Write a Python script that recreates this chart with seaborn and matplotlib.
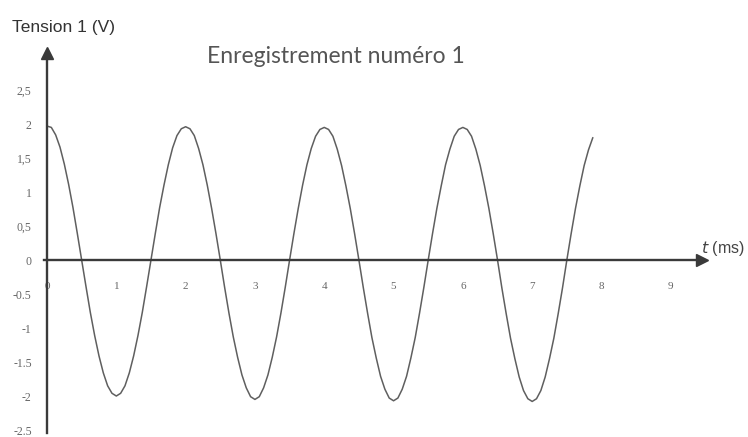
import numpy as np
import seaborn as sns
import matplotlib.pyplot as plt

# values, one sample every 0.0625 ms (period 2 ms)
dt_ms = 0.0625
cycle_1 = [1.97, 1.95, 1.84, 1.66, 1.41, 1.11, 0.77, 0.39, 0.0, -0.39, -0.77, -1.11, -1.41, -1.66, -1.85, -1.96,
           -2.0, -1.96, -1.85, -1.66, -1.41, -1.11, -0.77, -0.39, 0.0, 0.39, 0.77, 1.10, 1.40, 1.65, 1.83, 1.93]
cycle_2 = [1.96, 1.93, 1.83, 1.64, 1.40, 1.10, 0.76, 0.39, 0.0, -0.40, -0.78, -1.13, -1.43, -1.69, -1.88, -2.01,
           -2.05, -2.01, -1.88, -1.69, -1.43, -1.13, -0.78, -0.40, 0.0, 0.39, 0.76, 1.10, 1.40, 1.64, 1.82, 1.92]
cycle_3 = [1.95, 1.92, 1.82, 1.63, 1.39, 1.09, 0.76, 0.39, 0.0, -0.40, -0.78, -1.14, -1.44, -1.71, -1.90, -2.03,
           -2.07, -2.03, -1.90, -1.71, -1.44, -1.14, -0.78, -0.40, 0.0, 0.39, 0.76, 1.09, 1.40, 1.63, 1.82, 1.92]
cycle_4 = [1.95, 1.92, 1.82, 1.63, 1.39, 1.09, 0.76, 0.39, 0.0, -0.41, -0.79, -1.15, -1.45, -1.72, -1.92, -2.04,
           -2.08, -2.04, -1.92, -1.72, -1.45, -1.15, -0.79, -0.41, 0.0, 0.39, 0.76, 1.09, 1.39, 1.62, 1.80]
volts = np.array(cycle_1 + cycle_2 + cycle_3 + cycle_4)
t_ms = np.arange(len(volts)) * dt_ms

y_ticks = [2.5, 2, 1.5, 1, 0.5, 0, -0.5, -1, -1.5, -2, -2.5]
y_labels = ["2,5", "2", "1,5", "1", "0,5", "0", "-0.5", "-1", "-1.5", "-2", "-2.5"]
x_ticks = [0, 1, 2, 3, 4, 5, 6, 7, 8, 9]
x_labels = ["0", "1", "2", "3", "4", "5", "6", "7", "8", "9"]

sns.set_style("white")
fig = plt.figure(figsize=(7.48, 4.37), dpi=100)
ax = fig.add_axes([0.0582, 0.0082, 0.8803, 0.8714])

sns.lineplot(x=t_ms, y=volts, ax=ax, color="#5f5f5f", linewidth=1.1, sort=False)

ax.set_xlim(-0.05, 9.45)
ax.set_ylim(-2.55, 3.05)

axis_col = "#3a3a3a"
for side in ["top", "right"]:
    ax.spines[side].set_visible(False)
ax.spines["left"].set_position(("data", 0))
ax.spines["bottom"].set_position(("data", 0))
for side in ["left", "bottom"]:
    ax.spines[side].set_color(axis_col)
    ax.spines[side].set_linewidth(1.7)

# arrow heads
ax.plot(0, 1, marker="^", color=axis_col, markersize=9, transform=ax.get_xaxis_transform(), clip_on=False)
ax.plot(1, 0, marker=">", color=axis_col, markersize=9, transform=ax.get_yaxis_transform(), clip_on=False)

ax.set_yticks(y_ticks)
ax.set_yticklabels(y_labels, family="Liberation Serif", fontsize=8.5, color="#666666")
ax.set_xticks(x_ticks)
ax.set_xticklabels(x_labels, family="Liberation Serif", fontsize=8, color="#666666")
ax.tick_params(axis="y", length=0, pad=11)
ax.tick_params(axis="x", length=0, pad=16)
ax.set_xlabel("")
ax.set_ylabel("")

fig.text(0.016, 0.938, "Tension 1 (V)", ha="left", va="center", fontsize=12.5,
         family="Liberation Sans", color="#333333")
fig.text(0.449, 0.870, "Enregistrement numéro 1", ha="center", va="center", fontsize=16.5,
         family="Lato", color="#555555")
fig.text(0.937, 0.432, r"$t$ (ms)", ha="left", va="center", fontsize=11.5,
         family="Liberation Sans", color="#444444")

fig.savefig("out.png", dpi=100)
